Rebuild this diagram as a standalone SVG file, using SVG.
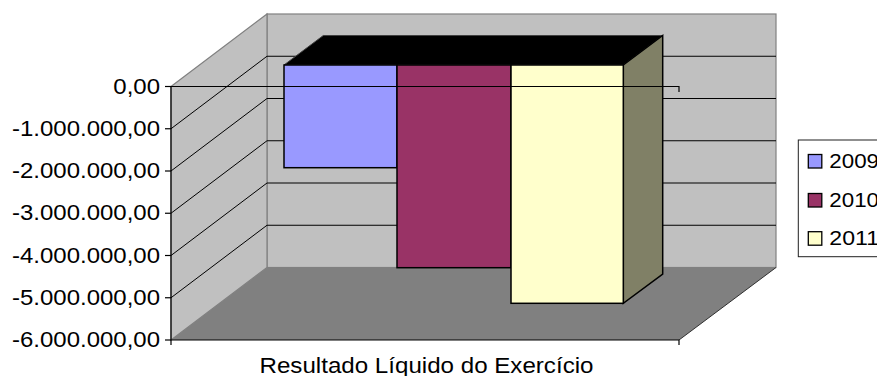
<svg xmlns="http://www.w3.org/2000/svg" width="877" height="376" viewBox="0 0 877 376">
<style>
.wall{fill:#C0C0C0;stroke:#808080;stroke-width:1.2}
.grid{stroke:#000;stroke-width:1;fill:none}
.ax{stroke:#000;stroke-width:1.2;fill:none}
.bar{stroke:#000;stroke-width:1.5}
.lbl{font-family:"Liberation Sans",Arial,sans-serif;font-size:22px;fill:#000}
.leg{font-family:"Liberation Sans",Arial,sans-serif;font-size:20.5px;fill:#000}
</style>
<rect width="877" height="376" fill="#fff"/>
<g id="walls">
<rect class="wall" x="267" y="14" width="509" height="253.5"/>
<polygon class="wall" points="171,86.5 267,14 267,267.5 171,340"/>
<polygon points="171,340 267,267.5 776,267.5 679,340" fill="#808080"/>
<line x1="776" y1="267.5" x2="679" y2="340" stroke="#303030" stroke-width="1"/>
</g>
<g id="gridlines" class="grid">
<polyline points="171,128.75 267,56.25 776,56.25"/>
<polyline points="171,171 267,98.5 776,98.5"/>
<polyline points="171,213.25 267,140.75 776,140.75"/>
<polyline points="171,255.5 267,183 776,183"/>
<polyline points="171,297.75 267,225.25 776,225.25"/>
</g>
<g id="bars">
<polygon points="284,65 323.3,35.5 662.7,35.5 623.3,65" fill="#000" stroke="#404040" stroke-width="1"/>
<polygon class="bar" points="623.3,65 662.7,35.5 662.7,274 623.3,303.3" fill="#808066"/>
<rect id="bar2009" class="bar" x="284" y="65" width="113" height="102.7" fill="#9999FF"/>
<rect id="bar2010" class="bar" x="397" y="65" width="114" height="202.7" fill="#993366"/>
<rect id="bar2011" class="bar" x="511" y="65" width="112.3" height="238.3" fill="#FFFFCC"/>
</g>
<g id="axes" class="ax">
<polyline points="171,86.5 679,86.5 679,92"/>
<polyline points="171,86.5 171,345"/>
<polyline points="171,340 679,340 679,345"/>
<line x1="165" y1="86.5" x2="171" y2="86.5"/>
<line x1="165" y1="128.75" x2="171" y2="128.75"/>
<line x1="165" y1="171" x2="171" y2="171"/>
<line x1="165" y1="213.25" x2="171" y2="213.25"/>
<line x1="165" y1="255.5" x2="171" y2="255.5"/>
<line x1="165" y1="297.75" x2="171" y2="297.75"/>
<line x1="165" y1="340" x2="171" y2="340"/>
</g>
<g id="ylabels" class="lbl" text-anchor="end">
<text x="160" y="93.5" textLength="46.7" lengthAdjust="spacingAndGlyphs">0,00</text>
<text x="160" y="135.75" textLength="148" lengthAdjust="spacingAndGlyphs">-1.000.000,00</text>
<text x="160" y="178" textLength="148" lengthAdjust="spacingAndGlyphs">-2.000.000,00</text>
<text x="160" y="220.25" textLength="148" lengthAdjust="spacingAndGlyphs">-3.000.000,00</text>
<text x="160" y="262.5" textLength="148" lengthAdjust="spacingAndGlyphs">-4.000.000,00</text>
<text x="160" y="304.75" textLength="148" lengthAdjust="spacingAndGlyphs">-5.000.000,00</text>
<text x="160" y="347" textLength="148" lengthAdjust="spacingAndGlyphs">-6.000.000,00</text>
</g>
<g id="xlabel">
<text class="lbl" x="426.5" y="372.7" text-anchor="middle" textLength="334" lengthAdjust="spacingAndGlyphs">Resultado Líquido do Exercício</text>
</g>
<g id="legend">
<rect x="798.3" y="140" width="100" height="116.7" fill="#fff" stroke="#202020" stroke-width="1"/>
<rect x="808.3" y="154.5" width="13.5" height="13.5" fill="#9999FF" stroke="#000" stroke-width="1.3"/>
<rect x="808.3" y="193.5" width="13.5" height="13.5" fill="#993366" stroke="#000" stroke-width="1.3"/>
<rect x="808.3" y="231.7" width="13.5" height="13.5" fill="#FFFFCC" stroke="#000" stroke-width="1.3"/>
<text class="leg" x="829.3" y="167.5" textLength="49.7" lengthAdjust="spacingAndGlyphs">2009</text>
<text class="leg" x="829.3" y="206.5" textLength="49.7" lengthAdjust="spacingAndGlyphs">2010</text>
<text class="leg" x="829.3" y="245" textLength="49.7" lengthAdjust="spacingAndGlyphs">2011</text>
</g>
</svg>
